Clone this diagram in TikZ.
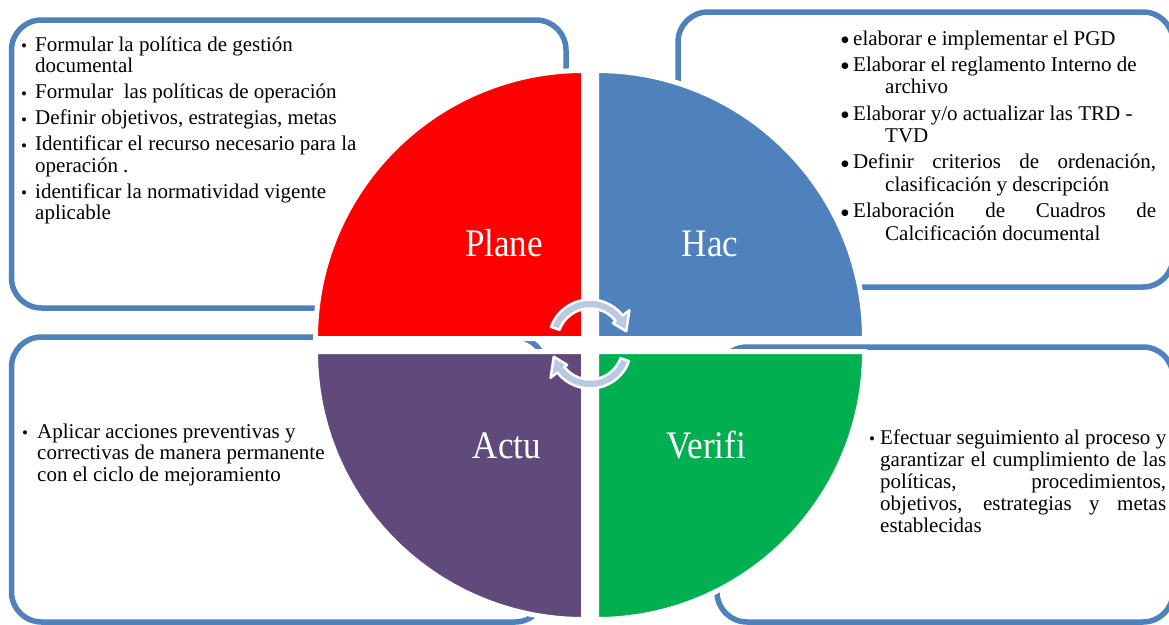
\documentclass[tikz,border=0pt]{standalone}
\usepackage{fontspec}
\setmainfont{Liberation Serif}
\usepackage{graphicx}
\definecolor{boxblue}{RGB}{79,129,189}
\definecolor{qred}{RGB}{255,0,0}
\definecolor{qblue}{RGB}{79,129,189}
\definecolor{qpurple}{RGB}{96,74,123}
\definecolor{qgreen}{RGB}{0,176,80}
\definecolor{arrowfill}{RGB}{185,201,226}
\newcommand{\bulsmall}{\raisebox{-0.5pt}{\fontsize{17}{17}\selectfont\textbullet}}
\newcommand{\bulbig}{\raisebox{-4.5pt}{\fontsize{28}{28}\selectfont\textbullet}}
\newcommand{\itemhang}[1]{\hangindent=#1\hangafter=1 }
\begin{document}
\begin{tikzpicture}[x=1pt,y=-1pt,
  boxline/.style={draw=boxblue, line width=5.5pt, rounded corners=30pt},
  quad/.style={draw=white, line width=5pt},
  cyc/.style={fill=arrowfill, draw=white, line width=2.5pt, line join=round},
  lbl/.style={anchor=base, text=white, inner sep=0pt, font=\fontsize{39}{40}\selectfont},
  txt/.style={anchor=base west, inner sep=0pt, text=black}]
\useasboundingbox (0,0) rectangle (1169,624);
\fill[white] (0,0) rectangle (1169,624);
% text boxes
\draw[boxline] (11.5,20) rectangle (566,308);
\draw[boxline] (678,12) rectangle (1173,287);
\draw[boxline] (11.5,337) rectangle (545,622);
\draw[boxline] (717,347) rectangle (1173,622);
% quadrants
\path[quad, fill=qred] (583.5,338.5) -- (315.5,338.5) arc[start angle=180, end angle=270, radius=268] -- cycle;
\path[quad, fill=qblue] (596.5,338.5) -- (596.5,70.5) arc[start angle=270, end angle=360, radius=268] -- cycle;
\path[quad, fill=qpurple] (583.5,351.5) -- (583.5,619.5) arc[start angle=90, end angle=180, radius=268] -- cycle;
\path[quad, fill=qgreen] (596.5,351.5) -- (864.5,351.5) arc[start angle=0, end angle=90, radius=268] -- cycle;
% cycle arrows
\begin{scope}[shift={(590,341)}]
\path[cyc] (200:41.5) arc[start angle=200, end angle=322, radius=41.5] -- (322:50) -- (345:37.5) -- (322:29) -- (322:32.5) arc[start angle=322, end angle=200, radius=32.5] -- cycle;
\end{scope}
\begin{scope}[shift={(590,347)}]
\path[cyc] (20:41.5) arc[start angle=20, end angle=142, radius=41.5] -- (142:50) -- (165:37.5) -- (142:29) -- (142:32.5) arc[start angle=142, end angle=20, radius=32.5] -- cycle;
\end{scope}
% quadrant labels
\node[lbl] (plane) at (504,256) {\scalebox{0.9}[1]{Plane}};
\node[lbl] (hac) at (710,256) {\scalebox{0.9}[1]{Hac}};
\node[lbl] (actu) at (507,458) {\scalebox{0.9}[1]{Actu}};
\node[lbl] (verifi) at (706,458) {\scalebox{0.9}[1]{Verifi}};
% top-left text
\node[txt] (tltext) at (21,51) {\parbox[t]{420pt}{\fontsize{21}{21.5}\selectfont\raggedright\hyphenpenalty=10000\setlength{\parskip}{4.5pt}%
\itemhang{14pt}\makebox[14pt][l]{\bulsmall}Formular la política de gestión\newline documental\par
\itemhang{14pt}\makebox[14pt][l]{\bulsmall}Formular\ \ las políticas de operación\par
\itemhang{14pt}\makebox[14pt][l]{\bulsmall}Definir objetivos, estrategias, metas\par
\itemhang{14pt}\makebox[14pt][l]{\bulsmall}Identificar el recurso necesario para la\newline operación .\par
\itemhang{14pt}\makebox[14pt][l]{\bulsmall}identificar la normatividad vigente\newline aplicable\par}};
% top-right text
\node[txt] (trtext) at (840,45) {\parbox[t]{316pt}{\fontsize{21}{22.5}\selectfont\hyphenpenalty=10000\tolerance=10000\setlength{\parskip}{3.8pt}%
\itemhang{45pt}\makebox[13pt][l]{\bulbig}elaborar e implementar el PGD\par
\itemhang{45pt}\makebox[13pt][l]{\bulbig}Elaborar el reglamento Interno de\newline archivo\par
\itemhang{45pt}\makebox[13pt][l]{\bulbig}Elaborar y/o actualizar las TRD -\newline TVD\par
\itemhang{45pt}\makebox[13pt][l]{\bulbig}Definir criterios de ordenación,\linebreak clasificación y descripción\par
\itemhang{45pt}\makebox[13pt][l]{\bulbig}Elaboración de Cuadros de\linebreak Calcificación documental\par}};
% bottom-left text
\node[txt] (bltext) at (22,438) {\parbox[t]{420pt}{\fontsize{21}{21.5}\selectfont\raggedright\hyphenpenalty=10000%
\itemhang{15pt}\makebox[15pt][l]{\bulsmall}Aplicar acciones preventivas y\newline correctivas de manera permanente\newline con el ciclo de mejoramiento\par}};
% bottom-right text
\node[txt] (brtext) at (869,444) {\parbox[t]{297pt}{\fontsize{21}{22}\selectfont\hyphenpenalty=10000\tolerance=10000%
\itemhang{11pt}\makebox[11pt][l]{\bulsmall}Efectuar seguimiento al proceso y\linebreak garantizar el cumplimiento de las\linebreak políticas, procedimientos,\linebreak objetivos, estrategias y metas\linebreak establecidas\par}};
\end{tikzpicture}
\end{document}
